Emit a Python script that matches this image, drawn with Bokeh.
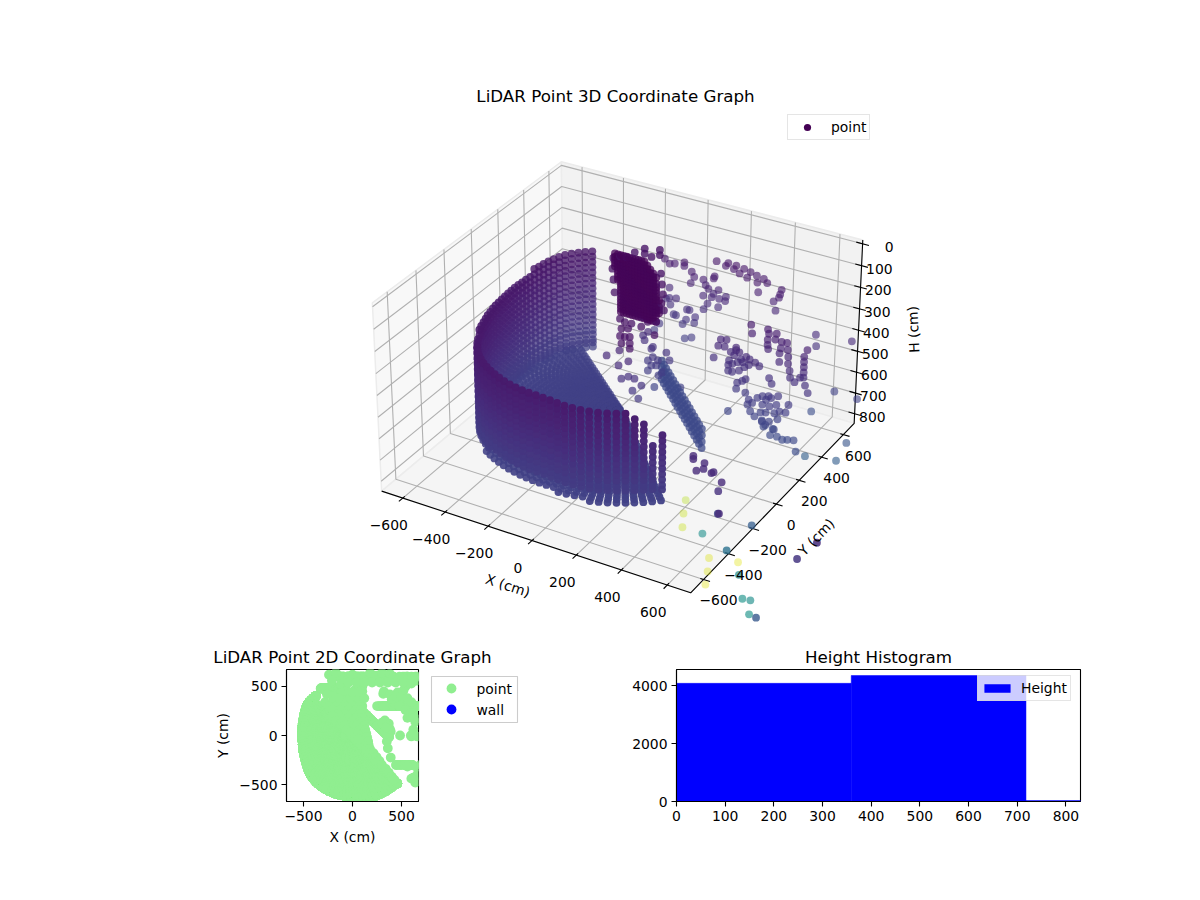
import numpy as np
from bokeh.core.properties import value
from bokeh.embed import file_html
from bokeh.layouts import column, row
from bokeh.models import ColumnDataSource, FixedTicker, Label, Legend, LegendItem, Range1d
from bokeh.palettes import Viridis256
from bokeh.plotting import figure
from bokeh.resources import INLINE

# scan of the room wall: pan angle (deg), range (cm), first and last height seen (cm)
wall_pan = [133, 136, 139, 142, 145, 148, 151, 154, 157, 160, 163, 166, 169, 172, 175, 178, 181, 184, 187, 190,
            193, 196, 199, 202, 205, 208, 211, 214, 217, 220, 223, 226, 229, 232, 235, 238, 241, 244, 247, 250,
            253, 256, 259, 262, 265, 268, 271, 274, 277, 280, 283, 286, 289, 292, 295, 298, 301, 304, 307, 310, 313]
wall_range = [550, 552, 554, 556, 556, 552, 546, 540, 534, 528, 525, 521, 518, 515, 513, 512, 511, 511, 512, 514,
              517, 521, 525, 530, 536, 541, 548, 557, 566, 575, 583, 590, 596, 601, 605, 608, 610, 612, 614, 616,
              618, 619, 620, 620, 620, 620, 621, 625, 632, 640, 646, 652, 656, 659, 660, 660, 660, 660, 660, 660, 670]
wall_top = [185] * 11 + [190] * 10 + [200] * 8 + [215] * 8 + [235] * 20 + [240, 280, 370, 330]
wall_base = [640] * 29 + [605] * 8 + [580] * 24
wall_levels = [185, 210, 235, 260, 285, 310, 335, 360, 385, 410, 435, 460, 485, 510, 535, 560, 580, 605, 620, 640]

# floor seen by the same pan angles
floor_height = 640
floor_first_pan = 139
floor_ranges = [30, 55, 80, 105, 130, 155, 180, 205, 230, 255, 280, 305, 330, 355, 380, 405, 430, 455, 480, 505, 530, 555, 580, 605, 630, 655]

# dense block on the far wall, with its ragged left and right edge per height
clump_y = 480
clump_x = [-313, -299, -285, -271, -257, -243, -229, -215, -201, -187, -173, -159, -145, -131, -117, -103]
clump_h = [215, 230, 245, 260, 275, 290, 305, 320, 335, 350, 365, 380, 395, 410, 425, 440, 455, 470, 485]
clump_left = [-313, -313, -313, -313, -313, -310, -305, -305, -300, -297, -297, -297, -295, -292, -292, -289, -289, -289, -285]
clump_right = [-170, -150, -135, -120, -117, -125, -117, -110, -110, -105, -117, -103, -110, -103, -96, -103, -117, -131, -110]
tail_x = [-289, -266, -234, -282, -250, -289, -266, -242, -282, -242, -242, -179, -156, -116, -187, -124,
          -219, -172, -101, -172, -140, -101, -321, -289, -258, -90, -85, -92, -80, -95, -325, -320, -315]
tail_h = [519, 529, 527, 565, 556, 603, 601, 594, 637, 626, 651, 478, 496, 484, 529, 551,
          184, 154, 141, 178, 184, 165, 238, 221, 216, 300, 345, 390, 420, 250, 290, 340, 400]

# diagonal shelf
strip_x = [-27, -4, 19, 43, 66, 90, 113, 136, 160, 183, 207, 230, 254, 277, 300, 324, 347, 371]
strip_y = [370, 347, 325, 302, 279, 257, 234, 211, 189, 166, 143, 121, 98, 75, 53, 30, 7, -15]
strip_levels = [590, 620, 650, 680]

# loose returns, far side
back_y = 600
back_x = [98, 141, 152, 178, 189, 205, 225, 240, 255, 284, 287, 292, 316, 332, 363, 387, 392, 398, 373,
          -17, -5, -21, 38, 49, 38, 90, 86, 62, 78, 59, 109, 113, 109, 144, 141, 86,
          -144, -121, -97, -52, -52, -121, -121, -137, -89, -116, -100, -89, -37, -25, -41, 2, -2, -57, 41, -46, -14, -168, -192,
          559, 562, 720, 652, 755, 551, 530, 673, 716]
back_h = [196, 206, 190, 211, 192, 224, 197, 234, 204, 213, 244, 288, 219, 234, 311, 287, 270, 247, 352,
          277, 298, 332, 299, 322, 375, 270, 280, 336, 371, 407, 329, 369, 410, 351, 372, 353,
          250, 267, 260, 243, 259, 381, 430, 438, 424, 461, 503, 505, 462, 462, 512, 488, 517, 538, 439, 604, 591, 567, 606,
          412, 465, 396, 654, 659, 781, 1007, 984, 883]

# loose returns, middle
mid_y = 300
mid_x = [282, 308, 271, 300, 251, 352, 328, 321, 344, 367, 318, 336, 360, 375, 398, 414, 411, 391, 367, 336, 318, 439, 458, 352, 383,
         417, 422, 492, 497, 492, 492, 495, 531, 526, 554, 551, 546, 546, 578, 582, 585, 585, 593, 596, 616, 640, 655, 655, 655, 655, 655, 668, 663, 676,
         360, 383, 398, 356, 398, 414, 409, 430, 453, 476, 492, 515, 546, 476, 508, 539, 422, 469, 492, 531, 554, 581, 442, 476, 508, 546, 484, 593, 321, 526, 503, 515, 503,
         476, 492, 515, 531, 546, 570, 593, 621, 632,
         -69, -37, 33, -53, -30, -6, -37, -14, -53, 17, 48, -3, -22, 100, -76, -30, -53]
mid_h = [363, 358, 396, 392, 457, 382, 408, 450, 419, 399, 472, 462, 447, 429, 411, 418, 445, 461, 484, 499, 499, 426, 437, 393, 440,
         256, 295, 256, 275, 304, 328, 346, 265, 293, 296, 326, 351, 391, 294, 325, 356, 388, 418, 449, 464, 436, 335, 359, 383, 407, 431, 300, 466, 497,
         543, 528, 515, 573, 579, 607, 632, 618, 587, 572, 584, 569, 551, 612, 611, 594, 660, 651, 645, 636, 621, 618, 678, 687, 683, 660, 714, 578, 690, 712, 564, 502, 479,
         692, 704, 745, 713, 743, 750, 743, 737, 787,
         469, 500, 498, 561, 538, 547, 580, 573, 609, 596, 531, 617, 679, 644, 448, 490, 425]

# loose returns, near the centre line
inner_x = [-73, -14, -18, 27, -5, 27, 73, 55, 46, 87]
inner_h = [390, 349, 420, 388, 478, 459, 548, 460, 519, 483]

# returns in front of and below the box
out_x = [488, 488, 537, 502, 533, 577, 568, 613, 599, 599, 604, 595, 485, 457, 448, 444, 564, 559, 550, 692, 533, 697, 715, 750, 746, 777, 601, 511]
out_y = [-300, -300, -300, -300, -300, -300, -300, -300, -300, -300, -300, 0, 0, -300, -300, -300, -300, -300, -300, -300, -300, -300, -300, -300, -300, -300, 600, 600]
out_h = [523, 537, 540, 586, 568, 569, 576, 604, 649, 754, 752, 984, 1143, 737, 803, 869, 974, 1040, 1106, 950, 869, 1008, 1116, 1111, 1180, 1185, 1419, 1534]
out_tone = [0.12, 0.12, 0.12, 0.12, 0.12, 0.12, 0.12, 0.12, 0.14, 0.2, 0.12, 0.3, 0.38, 0.9, 0.92, 0.92, 0.95, 0.95, 0.96, 0.96, 0.5, 0.48, 0.52, 0.5, 0.52, 0.28, 0.12, 0.16]
out_fade = [0.8, 0.8, 0.8, 0.8, 0.8, 0.8, 0.8, 0.8, 0.8, 0.85, 0.8, 0.75, 0.8, 0.4, 0.4, 0.4, 0.4, 0.4, 0.4, 0.4, 0.6, 0.7, 0.65, 0.65, 0.65, 0.8, 0.85, 0.85]

# extra footprint only visible in the top-down plot
plan_x = [-280, -200, -120, -40, 40, -240, -160, -80, 0, 80, -200, -120, -40, 40, 90, -80, 0, 80, -120, -40, 40, 100, 0, 80, 110, -40, 40, 120, 0, 80, 130, 40, 120, 140, 80, 140, 150, 60, 140, 160, 100, 165, 140, 180, 180, 215, 220, 245, 260, 275, 300, 340, 370, 400, 425,
          -240, -210, -130, -170, -120, -60, 0, 60, 120, 180, 240, 300, 380, 420, 480, 640, 650, 540, 520, 460, 420, 400, 480, 540, 600, 620, 560, 650, 640, 620, 600, 660, 350, 380, 390, 340, 360, 390, 560, 650, 620, 640, 660, 600, 340, 370, 313, 330, 380,
          -60, 20, 100, 100, -60, 20, -100, -20, 60, -40, 40, 120, 200, 280, 360, 440, 520, 600, 320, 380, 440, 500, 560, 600, 480, 540, 600, 560, 620, 300, 340,
          -180, -120, -140, -200, -260, 120, 60, 0, -150, -200, -170, -120, -100, -80, -60, -20, 30, 60]
plan_y = [340, 340, 340, 340, 340, 300, 300, 300, 300, 300, 260, 260, 260, 260, 260, 220, 220, 220, 180, 180, 180, 180, 140, 140, 140, 100, 100, 100, 60, 60, 60, 20, 20, 20, -20, -20, -20, -60, -60, -60, -100, -100, -140, -140, -180, -180, -220, -220, -260, -260, -300, -340, -380, -420, -450,
          620, 560, 600, 640, 520, 560, 620, 600, 600, 640, 610, 640, 630, 600, 600, 600, 560, 500, 460, 440, 390, 370, 370, 330, 300, 230, 260, 170, 140, 60, -10, -10, -60, 60, 40, 20, -130, -225, -316, -320, -430, -480, -400, -440, 100, 120, 425, 153, 68,
          460, 460, 450, 500, 420, 420, 380, 380, 380, 540, 540, 540, 540, 540, 540, 540, 540, 530, 450, 420, 400, 400, 380, 340, 300, 260, 230, 180, 180, 130, 80,
          420, 430, 380, 400, 420, 380, 440, 440, 220, 200, 150, 120, 140, 100, 60, 30, -20, -40]

hist_edges = [0, 359, 718, 1077, 1436, 1795, 2154, 2513, 2872, 3231, 3590]
hist_counts = [4075, 4345, 32, 3, 2, 3, 1, 2, 3, 4]

x_ticks = [-600, -400, -200, 0, 200, 400, 600]
y_ticks = [-600, -400, -200, 0, 200, 400, 600]
h_ticks = [0, 100, 200, 300, 400, 500, 600, 700, 800]

# the box that the 3D axes draw, with view_init(30, -60) and inverted height
XY_HALF = 701
H_TOP = -17
H_BOTTOM = 847
HALF_XY = 0.62026
HALF_H = 0.37215
VIEW_U = np.array([0.86603, 0.5, 0.0])
VIEW_V = np.array([-0.25, 0.43301, 0.86603])
VIEW_W = np.array([0.43301, -0.75, 0.5])


def toward_viewer(x, y, h):
    dx = np.asarray(x, dtype=float) / XY_HALF * HALF_XY
    dy = np.asarray(y, dtype=float) / XY_HALF * HALF_XY
    dz = ((H_TOP + H_BOTTOM) / 2 - np.asarray(h, dtype=float)) / (H_BOTTOM - H_TOP) * 2 * HALF_H
    return dx, dy, dz, VIEW_W[0] * dx + VIEW_W[1] * dy + VIEW_W[2] * dz


def project(x, y, h):
    dx, dy, dz, d = toward_viewer(x, y, h)
    return (VIEW_U[0] * dx + VIEW_U[1] * dy) / (10 - d), (VIEW_V[0] * dx + VIEW_V[1] * dy + VIEW_V[2] * dz) / (10 - d)


# where six corners of the box sit in the window sets the figure ranges
B = XY_HALF
cx = [-B, -B, -B, B, B, B]
cy = [B, -B, -B, -B, B, B]
ch = [H_TOP, H_TOP, H_BOTTOM, H_BOTTOM, H_BOTTOM, H_TOP]
cpx = [561, 372, 381, 690, 853, 863]
cpy = [162, 303, 491, 592, 423, 238]
csx, csy = project(cx, cy, ch)
ax, bx = np.polyfit(csx, cpx, 1)
ay, by = np.polyfit(csy, cpy, 1)

# gather all returns
X, Y, H, tone, fade = [], [], [], [], []


def add(xs, ys, hs, tones=None, fades=None):
    for i in range(len(xs)):
        X.append(xs[i])
        Y.append(ys[i])
        H.append(hs[i])
        tone.append(hs[i] / 3300 if tones is None else tones[i])
        fade.append(None if fades is None else fades[i])


for pan, rng, top, base in zip(wall_pan, wall_range, wall_top, wall_base):
    c, s = np.cos(np.radians(pan)), np.sin(np.radians(pan))
    for lev in wall_levels:
        if top <= lev <= base:
            add([rng * c], [rng * s], [lev])
    if pan >= floor_first_pan:
        for r in floor_ranges:
            if r < rng:
                add([r * c], [r * s], [floor_height])

for chv, lo, hi in zip(clump_h, clump_left, clump_right):
    for cxv in clump_x:
        if lo <= cxv <= hi:
            add([cxv], [clump_y], [chv], [0.015])
add(tail_x, [clump_y] * len(tail_x), tail_h, [0.05] * len(tail_x))
for sx_, sy_ in zip(strip_x, strip_y):
    for lev in strip_levels:
        add([sx_], [sy_], [lev], [0.22], [0.75])
add(back_x, [back_y] * len(back_x), back_h, None, [0.62] * len(back_x))
add(mid_x, [mid_y] * len(mid_x), mid_h, None, [0.68] * len(mid_x))
add(inner_x, [0] * len(inner_x), inner_h, None, [0.7] * len(inner_x))
add(out_x, out_y, out_h, out_tone, out_fade)

X = np.array(X, dtype=float)
Y = np.array(Y, dtype=float)
H = np.array(H, dtype=float)
sx, sy = project(X, Y, H)
depth = toward_viewer(X, Y, H)[3]
alpha = np.clip(0.85 + 0.25 * depth, 0.3, 1.0)
alpha = [a if f is None else f for a, f in zip(alpha, fade)]
colors = [Viridis256[min(255, int(t * 255))] for t in tone]
order = np.argsort(depth)
points = ColumnDataSource(dict(x=sx[order], y=sy[order], c=[colors[i] for i in order], a=[alpha[i] for i in order]))

FONT = "DejaVu Sans"
TOP_H = 669

p3 = figure(width=1192, height=TOP_H, output_backend="svg", toolbar_location=None,
            x_range=Range1d((0 - bx) / ax, (1192 - bx) / ax), y_range=Range1d((TOP_H - by) / ay, (0 - by) / ay),
            min_border=0, outline_line_color=None, x_axis_type=None, y_axis_type=None)
p3.grid.visible = False

# panes
for xs, ys, hs, col in [([-B, -B, -B, -B], [-B, B, B, -B], [H_BOTTOM, H_BOTTOM, H_TOP, H_TOP], "#f8f8f8"),
                        ([-B, B, B, -B], [B, B, B, B], [H_BOTTOM, H_BOTTOM, H_TOP, H_TOP], "#f2f2f2"),
                        ([-B, B, B, -B], [-B, -B, B, B], [H_BOTTOM, H_BOTTOM, H_BOTTOM, H_BOTTOM], "#f5f5f5")]:
    px_, py_ = project(xs, ys, hs)
    p3.patch(px_, py_, fill_color=col, line_color="#ececec", line_width=1.5)

# grid lines on the panes
gx, gy = [], []


def grid_path(xs, ys, hs):
    a, b = project(xs, ys, hs)
    gx.append(list(a))
    gy.append(list(b))


for t in x_ticks:
    grid_path([t, t, t], [-B, B, B], [H_BOTTOM, H_BOTTOM, H_TOP])
for t in y_ticks:
    grid_path([B, -B, -B], [t, t, t], [H_BOTTOM, H_BOTTOM, H_TOP])
for t in h_ticks:
    grid_path([-B, -B, B], [-B, B, B], [t, t, t])
p3.multi_line(gx, gy, line_color="#b0b0b0", line_width=1.1)

# axis lines and ticks
ax_x = [-B, B, B, B]
ax_y = [-B, -B, B, B]
ax_h = [H_BOTTOM, H_BOTTOM, H_BOTTOM, H_TOP]
a, b = project(ax_x, ax_y, ax_h)
p3.line(a, b, line_color="black", line_width=1.1)
tx, ty = [], []


def tick_path(xs, ys, hs):
    a, b = project(xs, ys, hs)
    tx.append(list(a))
    ty.append(list(b))


for t in x_ticks:
    tick_path([t, t], [-B + 14, -B - 28], [H_BOTTOM, H_BOTTOM])
for t in y_ticks:
    tick_path([B - 14, B + 28], [t, t], [H_BOTTOM, H_BOTTOM])
for t in h_ticks:
    tick_path([B - 28, B + 28], [B, B], [t, t])
p3.multi_line(tx, ty, line_color="black", line_width=1.1)

p3.scatter("x", "y", source=points, size=7.8, fill_color="c", fill_alpha="a", line_color=None)


def tick_text(xs, ys, hs, labels, dx, dy, align="center"):
    a, b = project(xs, ys, hs)
    p3.text(a, b, text=labels, x_offset=dx, y_offset=dy, text_align=align, text_baseline="middle",
            text_font=value(FONT), text_font_size="13.9px", text_color="black")


def minus(v):
    return str(v).replace("-", "\u2212")


tick_text(x_ticks, [-B] * 7, [H_BOTTOM] * 7, [minus(t) for t in x_ticks], -14, 27)
tick_text([B] * 7, y_ticks, [H_BOTTOM] * 7, [minus(t) for t in y_ticks], 15, 21)
tick_text([B] * 9, [B] * 9, h_ticks, [str(t) for t in h_ticks], 31, 3, "right")


def axis_text(x, y, h, label, dx, dy, deg):
    a, b = project([x], [y], [h])
    p3.text(a, b, text=[label], x_offset=dx, y_offset=dy, angle=np.radians(deg), text_align="center",
            text_baseline="middle", text_font=value(FONT), text_font_size="13.9px", text_color="black")


axis_text(0, -B, H_BOTTOM, "X (cm)", -24, 45, -18)
axis_text(B, 0, H_BOTTOM, "Y (cm)", 40, 33, 46)
axis_text(B, B, 415, "H (cm)", 55, -4, 93)


# all three titles live in the top figure, the 2D one is wider than its frame
def title_label(x, y, text):
    p3.add_layout(Label(x=x, y=TOP_H - y, x_units="screen", y_units="screen", text=text, text_align="center",
                        text_baseline="middle", text_font=FONT, text_font_size="16.7px", text_color="black"))


title_label(615, 95, "LiDAR Point 3D Coordinate Graph")
title_label(352, 656, "LiDAR Point 2D Coordinate Graph")
title_label(878, 656, "Height Histogram")

key3 = p3.scatter([np.nan], [np.nan], size=7, fill_color="#440154", line_color=None)


def make_legend(items, x, y, gh=18, gw=32):
    leg = Legend(items=items, location=(x, y), label_text_font=FONT, label_text_font_size="13.9px", label_text_color="black",
                 border_line_color="#cccccc", border_line_width=1.1, background_fill_alpha=0.8, margin=0, padding=3,
                 spacing=0, glyph_height=gh, glyph_width=gw, label_height=18, label_standoff=8, label_text_baseline="middle")
    return leg


p3.add_layout(make_legend([LegendItem(label="point", renderers=[key3])], 787, TOP_H - 140))


def style_axes(p, xt, yt):
    p.grid.visible = False
    p.outline_line_color = "black"
    p.outline_line_width = 1.1
    p.outline_line_alpha = 1
    for axis, ticks in ((p.xaxis, xt), (p.yaxis, yt)):
        axis.ticker = FixedTicker(ticks=ticks)
        axis.major_label_overrides = {t: minus(t) for t in ticks}
        axis.major_tick_in = 0
        axis.major_tick_out = 5
        axis.minor_tick_line_color = None
        axis.axis_line_color = "black"
        axis.axis_line_width = 1.1
        axis.major_tick_line_width = 1.1
        axis.major_tick_line_color = "black"
        axis.major_label_text_font = FONT
        axis.major_label_text_font_size = "13.9px"
        axis.major_label_text_color = "black"
        axis.major_label_standoff = 4
        axis.axis_label_text_font = FONT
        axis.axis_label_text_font_size = "13.9px"
        axis.axis_label_text_font_style = "normal"
        axis.axis_label_text_color = "black"
        axis.axis_label_standoff = 5
    p.yaxis.major_label_orientation = "horizontal"


plan = figure(width=420, height=223, output_backend="svg", toolbar_location=None,
              x_range=Range1d(-673, 673), y_range=Range1d(-673, 673),
              min_border_left=286, min_border_right=2, min_border_top=0, min_border_bottom=91,
              x_axis_label="X (cm)", y_axis_label="Y (cm)")
style_axes(plan, [-500, 0, 500], [-500, 0, 500])
plan.scatter(list(X) + plan_x, list(Y) + plan_y, size=9.8, fill_color="#90ee90", line_color=None)

# the key of the 2D plot sits beside its frame, so it is drawn in a blank strip of its own
# the row lines this strip's frame up with the 132px frames next to it
side = figure(width=140, height=223, output_backend="svg", toolbar_location=None, min_border=0,
              outline_line_color=None, x_axis_type=None, y_axis_type=None, x_range=Range1d(2, 142), y_range=Range1d(132, 0))
side.grid.visible = False
side.quad(left=[13], right=[99], top=[7], bottom=[53], fill_color="white", line_color="#cccccc", line_width=1.1)
side.scatter([33, 33], [19, 40], size=9.8, fill_color=["#90ee90", "blue"], line_color=None)
side.text([58, 58], [19, 40], text=["point", "wall"], text_baseline="middle", text_font=value(FONT),
          text_font_size="13.9px", text_color="black")

hist = figure(width=632, height=223, output_backend="svg", toolbar_location=None,
              x_range=Range1d(0, 830), y_range=Range1d(0, 4552),
              min_border_left=116, min_border_right=112, min_border_top=0, min_border_bottom=91)
style_axes(hist, [0, 100, 200, 300, 400, 500, 600, 700, 800], [0, 2000, 4000])
bars = hist.quad(left=hist_edges[:-1], right=hist_edges[1:], bottom=0, top=hist_counts, fill_color="blue", line_color="blue", line_width=0.5)
hist.add_layout(make_legend([LegendItem(label="Height", renderers=[bars])], 301, 100, gh=10))

page = column(p3, row(plan, side, hist, spacing=0), spacing=0)
open("out.html", "w").write(file_html(page, INLINE))
